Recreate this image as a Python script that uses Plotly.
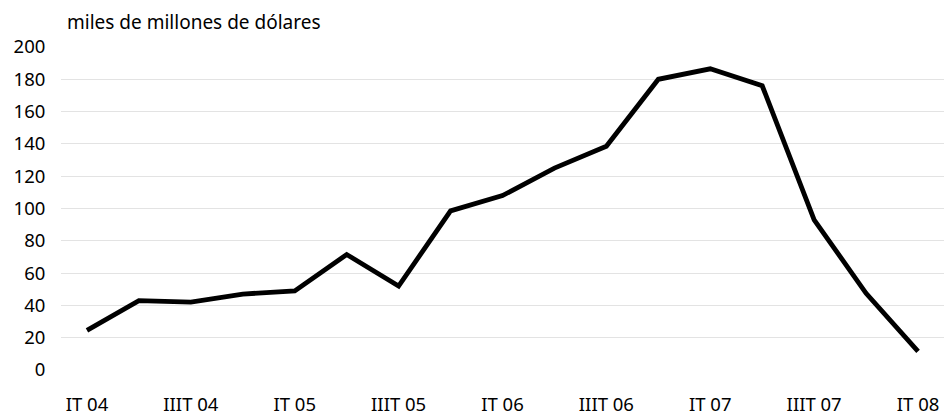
import plotly.graph_objects as go

categories = ["IT 04", "IIT 04", "IIIT 04", "IVT 04",
              "IT 05", "IIT 05", "IIIT 05", "IVT 05",
              "IT 06", "IIT 06", "IIIT 06", "IVT 06",
              "IT 07", "IIT 07", "IIIT 07", "IVT 07",
              "IT 08"]
values = [24.5, 43, 42, 47, 49, 71.5, 52, 98.5, 108, 125, 138.5, 180, 186.5, 176, 93, 47.5, 11.5]
tick_labels = ["IT 04", "IIIT 04", "IT 05", "IIIT 05", "IT 06", "IIIT 06", "IT 07", "IIIT 07", "IT 08"]
y_ticks = [0, 20, 40, 60, 80, 100, 120, 140, 160, 180, 200]

fig = go.Figure()
fig.add_trace(go.Scatter(
    x=list(range(len(categories))), y=values, mode="lines",
    line=dict(color="black", width=4.8),
    text=categories, hovertemplate="%{text}: %{y}<extra></extra>",
))

fig.update_layout(
    width=944, height=416,
    margin=dict(l=61, r=0, t=47, b=44),
    paper_bgcolor="white", plot_bgcolor="white",
    font=dict(family="Noto Sans", size=18.5, color="black"),
    showlegend=False,
    xaxis=dict(
        range=[-0.5, len(categories) - 0.5],
        tickmode="array",
        tickvals=[categories.index(t) for t in tick_labels],
        ticktext=tick_labels,
        showgrid=False, zeroline=False, showline=False,
        ticks="outside", ticklen=18, tickcolor="rgba(0,0,0,0)",
    ),
    yaxis=dict(
        range=[0, 200],
        tickmode="array", tickvals=y_ticks,
        showgrid=True, gridcolor="#e3e3e3", gridwidth=1,
        zeroline=False, showline=False,
        ticks="outside", ticklen=11, tickcolor="rgba(0,0,0,0)",
    ),
    annotations=[dict(
        text="miles de millones de dólares", xref="paper", yref="paper",
        x=0.005, y=1.0, xanchor="left", yanchor="middle", yshift=25,
        showarrow=False, font=dict(size=19),
    )],
)

fig.write_html("out.html", config={"displayModeBar": False},
               post_script="document.body.style.margin='0';document.body.style.padding='0';")
